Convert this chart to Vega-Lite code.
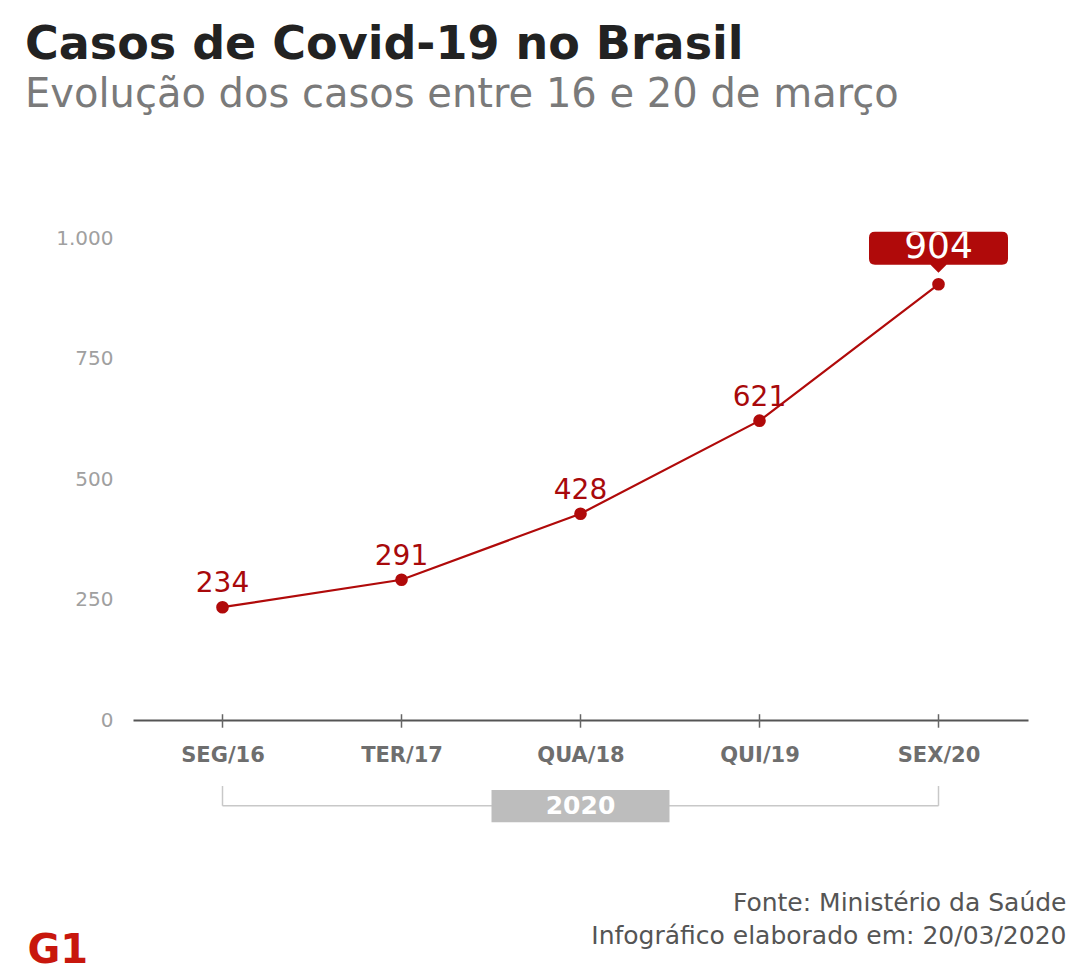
{
  "$schema": "https://vega.github.io/schema/vega-lite/v6.json",
  "autosize": {"type": "none"},
  "width": 895,
  "height": 482,
  "padding": {"left": 133, "top": 238, "right": 45, "bottom": 260},
  "background": "#ffffff",
  "title": {
    "text": "Casos de Covid-19 no Brasil",
    "subtitle": "Evolução dos casos entre 16 e 20 de março",
    "anchor": "start",
    "frame": "group",
    "dx": -108,
    "offset": 112,
    "font": "DejaVu Sans",
    "fontSize": 46,
    "fontWeight": "bold",
    "color": "#222222",
    "subtitleFont": "DejaVu Sans",
    "subtitleFontSize": 40,
    "subtitleColor": "#7a7a7a",
    "subtitlePadding": 6
  },
  "data": {
    "values": [
      {"dia": "SEG/16", "casos": 234},
      {"dia": "TER/17", "casos": 291},
      {"dia": "QUA/18", "casos": 428},
      {"dia": "QUI/19", "casos": 621},
      {"dia": "SEX/20", "casos": 904}
    ]
  },
  "encoding": {
    "x": {
      "field": "dia",
      "type": "ordinal",
      "sort": null,
      "scale": {"type": "point", "padding": 0.5},
      "axis": {
        "title": ["Fonte: Ministério da Saúde", "Infográfico elaborado em: 20/03/2020"],
        "titleX": 933,
        "titleY": 190,
        "titleAlign": "right",
        "titleAnchor": "end",
        "titleBaseline": "alphabetic",
        "titleLineHeight": 33,
        "titleFont": "DejaVu Sans",
        "titleFontSize": 25,
        "titleFontWeight": "normal",
        "titleColor": "#555555",
        "labelAngle": 0,
        "labelFont": "DejaVu Sans",
        "labelFontSize": 21,
        "labelFontWeight": "bold",
        "labelColor": "#6e6e6e",
        "labelBaseline": "middle",
        "labelPadding": 35,
        "ticks": false,
        "tickSize": 0,
        "domainColor": "#555555",
        "domainWidth": 2,
        "grid": false
      }
    }
  },
  "layer": [
    {
      "mark": {"type": "rule", "color": "#666666", "strokeWidth": 1.5},
      "encoding": {
        "y": {"datum": -16, "type": "quantitative"},
        "y2": {"datum": 12}
      }
    },
    {
      "mark": {"type": "line", "color": "#b00a0a", "strokeWidth": 2.2},
      "encoding": {
        "y": {
          "field": "casos",
          "type": "quantitative",
          "scale": {"domain": [0, 1000], "nice": false},
          "axis": {
            "values": [0, 250, 500, 750, 1000],
            "labelExpr": "replace(datum.label, ',', '.')",
            "labelFont": "DejaVu Sans",
            "labelFontSize": 20,
            "labelFontWeight": "normal",
            "labelColor": "#a0a0a0",
            "labelPadding": 20,
            "ticks": false,
            "tickSize": 0,
            "domain": false,
            "gridColor": "#eaeaea",
            "gridWidth": 1,
            "title": "G1",
            "titleAngle": 0,
            "titleX": -106,
            "titleY": 724,
            "titleAlign": "left",
            "titleBaseline": "alphabetic",
            "titleFont": "DejaVu Sans",
            "titleFontSize": 40,
            "titleFontWeight": "bold",
            "titleColor": "#c8170d"
          }
        }
      }
    },
    {
      "mark": {"type": "point", "filled": true, "opacity": 1, "size": 160, "color": "#b00a0a"},
      "encoding": {"y": {"field": "casos", "type": "quantitative"}}
    },
    {
      "transform": [{"filter": "datum.dia != 'SEX/20'"}],
      "mark": {"type": "text", "dy": -23, "baseline": "middle", "font": "DejaVu Sans", "fontSize": 28, "color": "#a8090b"},
      "encoding": {
        "y": {"field": "casos", "type": "quantitative"},
        "text": {"field": "casos", "type": "quantitative"}
      }
    },
    {
      "transform": [{"filter": "datum.dia == 'SEX/20'"}],
      "mark": {
        "type": "point",
        "filled": true,
        "opacity": 1,
        "color": "#b00a0a",
        "size": 19321,
        "yOffset": -36,
        "shape": "M -0.914 -0.237 L 0.914 -0.237 Q 1 -0.237 1 -0.151 L 1 0.151 Q 1 0.237 0.914 0.237 L 0.115 0.237 L 0 0.352 L -0.115 0.237 L -0.914 0.237 Q -1 0.237 -1 0.151 L -1 -0.151 Q -1 -0.237 -0.914 -0.237 Z"
      },
      "encoding": {"y": {"field": "casos", "type": "quantitative"}}
    },
    {
      "transform": [{"filter": "datum.dia == 'SEX/20'"}],
      "mark": {"type": "text", "dy": -37, "baseline": "middle", "font": "DejaVu Sans", "fontSize": 36, "color": "#ffffff"},
      "encoding": {
        "y": {"field": "casos", "type": "quantitative"},
        "text": {"field": "casos", "type": "quantitative"}
      }
    },
    {
      "transform": [{"filter": "datum.dia == 'SEG/16' || datum.dia == 'SEX/20'"}],
      "mark": {"type": "rule", "color": "#c8c8c8", "strokeWidth": 1.5},
      "encoding": {
        "y": {"datum": -137, "type": "quantitative"},
        "y2": {"datum": -178}
      }
    },
    {
      "transform": [{"filter": "datum.dia == 'SEG/16'"}],
      "mark": {"type": "rule", "color": "#c8c8c8", "strokeWidth": 1.5},
      "encoding": {
        "x2": {"datum": "SEX/20"},
        "y": {"datum": -178, "type": "quantitative"}
      }
    },
    {
      "transform": [{"filter": "datum.dia == 'QUA/18'"}],
      "mark": {"type": "bar", "width": 178, "color": "#bdbdbd"},
      "encoding": {
        "y": {"datum": -145, "type": "quantitative"},
        "y2": {"datum": -212}
      }
    },
    {
      "transform": [{"filter": "datum.dia == 'QUA/18'"}],
      "mark": {"type": "text", "baseline": "middle", "font": "DejaVu Sans", "fontSize": 25, "fontWeight": "bold", "color": "#ffffff"},
      "encoding": {
        "y": {"datum": -178, "type": "quantitative"},
        "text": {"value": "2020"}
      }
    }
  ],
  "config": {
    "view": {"stroke": null}
  }
}
